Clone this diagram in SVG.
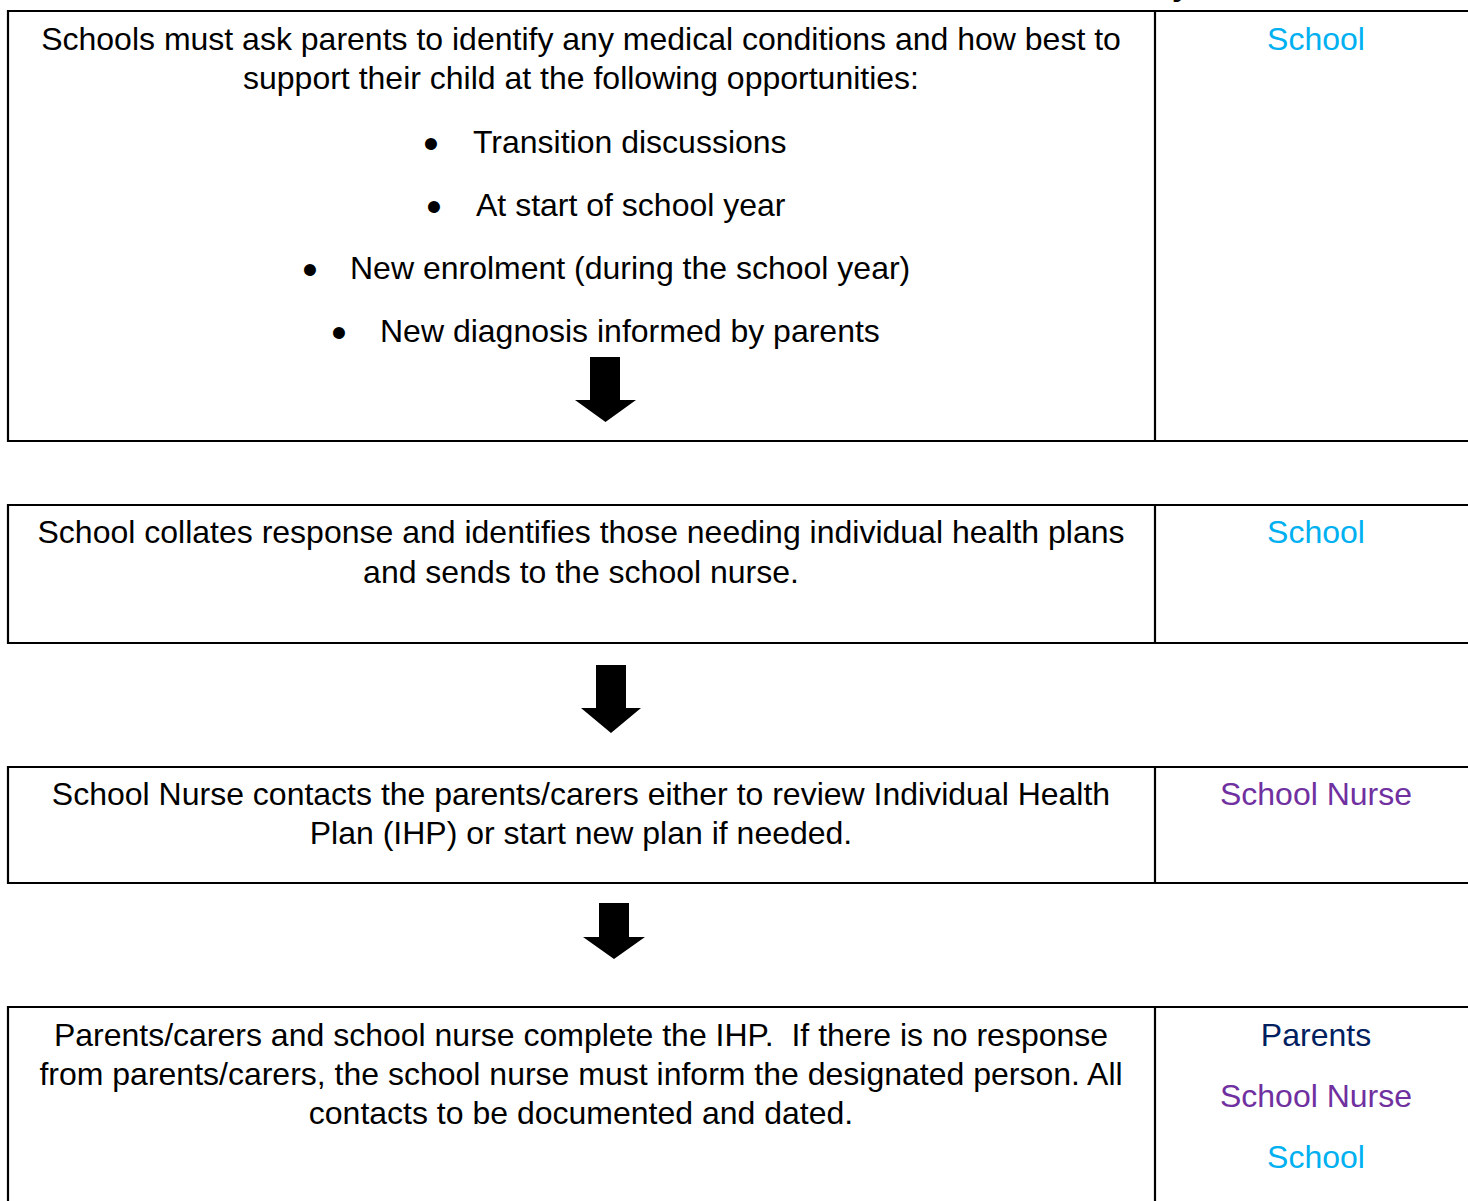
<svg xmlns="http://www.w3.org/2000/svg" width="1468" height="1201" viewBox="0 0 1468 1201">
<style>
.box{fill:none;stroke:#000;stroke-width:2.2}
.t{font-family:"Liberation Sans",Arial,sans-serif;font-size:32px;fill:#000;white-space:pre}
.c{text-anchor:middle}
.b{font-family:"Liberation Sans",Arial,sans-serif;font-size:44px;fill:#000;text-anchor:middle}
.school{fill:#00B0F0}
.nurse{fill:#7030A0}
.parents{fill:#002060}
.arrow{fill:#000}
</style>
<rect width="1468" height="1201" fill="#fff"/>
<text class="t" x="1181" y="-5" style="font-weight:bold" text-anchor="middle">y</text>

<g id="step1">
<path class="box" d="M1470 11 H8 V441 H1470 M1155 11 V441"/>
<text class="t c" x="581" y="50">Schools must ask parents to identify any medical conditions and how best to</text>
<text class="t c" x="581" y="89">support their child at the following opportunities:</text>
<text class="b" x="431" y="159">•</text><text class="t" x="473" y="153">Transition discussions</text>
<text class="b" x="434" y="222">•</text><text class="t" x="476" y="216">At start of school year</text>
<text class="b" x="310" y="285">•</text><text class="t" x="350" y="279">New enrolment (during the school year)</text>
<text class="b" x="339" y="348">•</text><text class="t" x="380" y="342">New diagnosis informed by parents</text>
<text class="t c school" x="1316" y="50">School</text>
</g>

<g id="step2">
<path class="box" d="M1470 505 H8 V643 H1470 M1155 505 V643"/>
<text class="t c" x="581" y="543">School collates response and identifies those needing individual health plans</text>
<text class="t c" x="581" y="583">and sends to the school nurse.</text>
<text class="t c school" x="1316" y="543">School</text>
</g>

<g id="step3">
<path class="box" d="M1470 767 H8 V883 H1470 M1155 767 V883"/>
<text class="t c" x="581" y="805">School Nurse contacts the parents/carers either to review Individual Health</text>
<text class="t c" x="581" y="844">Plan (IHP) or start new plan if needed.</text>
<text class="t c nurse" x="1316" y="805">School Nurse</text>
</g>

<g id="step4">
<path class="box" d="M1470 1007 H8 V1210 M1155 1007 V1210"/>
<text class="t c" x="581" y="1046">Parents/carers and school nurse complete the IHP.  If there is no response</text>
<text class="t c" x="581" y="1085">from parents/carers, the school nurse must inform the designated person. All</text>
<text class="t c" x="581" y="1124">contacts to be documented and dated.</text>
<text class="t c parents" x="1316" y="1046">Parents</text>
<text class="t c nurse" x="1316" y="1107">School Nurse</text>
<text class="t c school" x="1316" y="1168">School</text>
</g>

<g id="connectors">
<polygon class="arrow" points="590,357 620,357 620,400 636,400 605.5,422 575,400 590,400"/>
<polygon class="arrow" points="596,665 626,665 626,708 641,708 611,733 581,708 596,708"/>
<polygon class="arrow" points="599,903 629,903 629,937 645,937 614,959 583,937 599,937"/>
</g>
</svg>
